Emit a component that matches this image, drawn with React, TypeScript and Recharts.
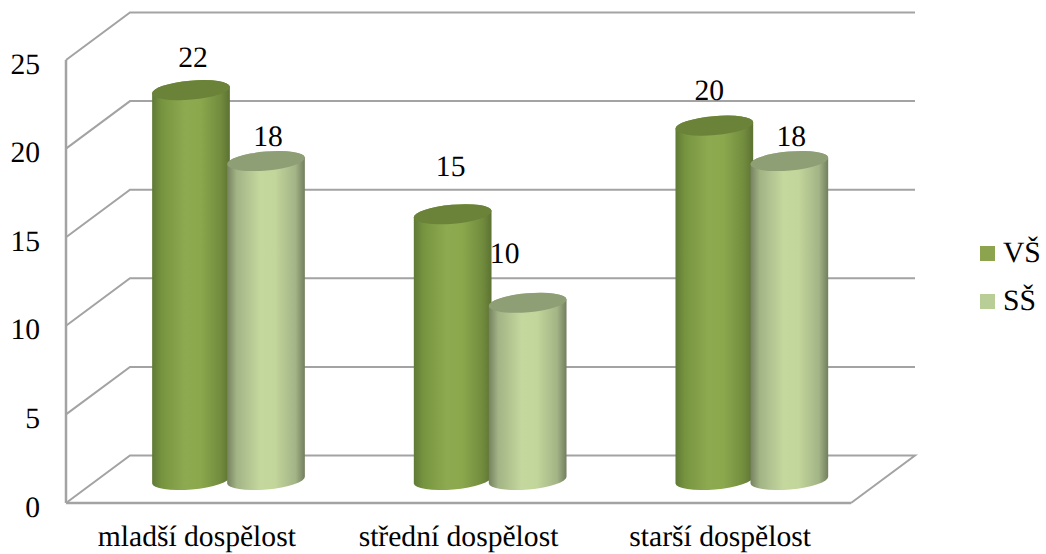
import React from 'react';
import { BarChart, Bar, XAxis, YAxis, CartesianGrid, Legend, LabelList } from 'recharts';

const categories = ['mladší dospělost', 'střední dospělost', 'starší dospělost'];
const vsValues = [22, 15, 20];
const ssValues = [18, 10, 18];
const yTicks = [0, 5, 10, 15, 20, 25];

const rows = categories.map((name, i) => ({ name, vs: vsValues[i], ss: ssValues[i] }));

const SERIF = 'Liberation Serif, serif';
const FONT_SIZE = 29.6;
const WALL = '#a3a3a3';

// Perspective of the box: how far the back wall sits from the front plane.
const DEPTH_X = 64;
const DEPTH_Y = 47.5;
// Cylinders stand in the middle of the floor.
const BAR_SHIFT_X = 32;
const BAR_SHIFT_Y = -23;
const CAP_RY = 9.5;
const CAP_TILT = 5;

// Hand-placed value labels: offset from the cylinder's top centre.
const vsLabelNudge = [
  { dx: 2, dy: -32 },
  { dx: -2, dy: -47 },
  { dx: -5, dy: -35 },
];
const ssLabelNudge = [
  { dx: 2, dy: -24 },
  { dx: -23, dy: -49 },
  { dx: 2, dy: -24 },
];

const wallLine = (props: any) => {
  const { x1, x2, y1 } = props;
  const isFloor = y1 > 500;
  const backY = y1 - DEPTH_Y;
  const points = isFloor
    ? `${x1},${y1} ${x1 + DEPTH_X},${backY} ${x2 + DEPTH_X},${backY} ${x2},${y1}`
    : `${x1},${y1} ${x1 + DEPTH_X},${backY} ${x2 + DEPTH_X},${backY}`;
  return <polyline key={`wall-${y1}`} points={points} fill="none" stroke={WALL} strokeWidth={2} />;
};

const cylinder = (gradient: string, cap: string) => (props: any) => {
  const { x, y, width, height } = props;
  const rx = width / 2;
  const cx = x + rx + BAR_SHIFT_X;
  const topY = y + BAR_SHIFT_Y;
  const baseY = y + height + BAR_SHIFT_Y;
  const a = (CAP_TILT * Math.PI) / 180;
  const ex = rx * Math.cos(a);
  const ey = rx * Math.sin(a);
  const body = [
    `M ${cx - ex} ${topY + ey}`,
    `L ${cx - ex} ${baseY + ey}`,
    `A ${rx} ${CAP_RY} ${-CAP_TILT} 0 0 ${cx + ex} ${baseY - ey}`,
    `L ${cx + ex} ${topY - ey}`,
    `A ${rx} ${CAP_RY} ${-CAP_TILT} 0 0 ${cx - ex} ${topY + ey}`,
    'Z',
  ].join(' ');
  return (
    <g>
      <path d={body} fill={`url(#${gradient})`} />
      <ellipse
        cx={cx}
        cy={topY}
        rx={rx}
        ry={CAP_RY}
        fill={cap}
        transform={`rotate(${-CAP_TILT} ${cx} ${topY})`}
      />
    </g>
  );
};

const valueLabel = (nudge: { dx: number; dy: number }[]) => (props: any) => {
  const { x, y, width, value, index } = props;
  return (
    <text
      x={x + width / 2 + BAR_SHIFT_X + nudge[index].dx}
      y={y + BAR_SHIFT_Y + nudge[index].dy}
      textAnchor="middle"
      dominantBaseline="central"
      fontFamily={SERIF}
      fontSize={FONT_SIZE}
      fill="#000"
      style={{ textRendering: 'geometricPrecision' }}
    >
      {value}
    </text>
  );
};

const legendContent = ({ payload }: any) => (
  <div style={{ fontFamily: SERIF, fontSize: FONT_SIZE, color: '#000', textRendering: 'geometricPrecision' }}>
    {(payload ?? []).map((entry: any) => (
      <div key={entry.value} style={{ display: 'flex', alignItems: 'center', height: 48 }}>
        <span style={{ width: 15, height: 15, background: entry.color, marginRight: 8, flex: 'none' }} />
        <span>{entry.value}</span>
      </div>
    ))}
  </div>
);

export default function App() {
  const tickStyle = { fontFamily: SERIF, fontSize: FONT_SIZE, fill: '#000', style: { textRendering: 'geometricPrecision' } };
  return (
    <div style={{ position: 'absolute', left: 0, top: 0, width: 1046, height: 554 }}>
      <BarChart
        width={1046}
        height={554}
        data={rows}
        margin={{ top: 60, right: 195, bottom: 0, left: 16 }}
        barSize={78}
        barGap={-3}
      >
        <defs>
          <linearGradient id="vsBody" x1="0" y1="0" x2="1" y2="0">
            <stop offset="0" stopColor="#5f7a36" />
            <stop offset="0.12" stopColor="#76933f" />
            <stop offset="0.42" stopColor="#8eaa50" />
            <stop offset="0.62" stopColor="#8ba84d" />
            <stop offset="0.88" stopColor="#728c3e" />
            <stop offset="1" stopColor="#5c7232" />
          </linearGradient>
          <linearGradient id="ssBody" x1="0" y1="0" x2="1" y2="0">
            <stop offset="0" stopColor="#76825f" />
            <stop offset="0.12" stopColor="#a2b385" />
            <stop offset="0.42" stopColor="#c4d79d" />
            <stop offset="0.62" stopColor="#c2d59a" />
            <stop offset="0.88" stopColor="#a3b486" />
            <stop offset="1" stopColor="#727e5e" />
          </linearGradient>
        </defs>
        <CartesianGrid vertical={false} horizontal={wallLine} />
        <XAxis
          dataKey="name"
          height={51}
          axisLine={{ stroke: WALL, strokeWidth: 2.5 }}
          tickLine={false}
          tick={tickStyle}
          tickMargin={16}
          interval={0}
        />
        <YAxis
          domain={[0, 25]}
          ticks={yTicks}
          width={50}
          axisLine={{ stroke: WALL, strokeWidth: 2.5 }}
          tickLine={false}
          tick={{ ...tickStyle, dy: 3 }}
          tickMargin={20}
        />
        <Legend
          layout="horizontal"
          align="center"
          verticalAlign="middle"
          itemSorter={null}
          content={legendContent}
          wrapperStyle={{ position: 'absolute', left: 980, top: 229, width: 66, margin: 0 }}
        />
        <Bar
          dataKey="vs"
          name="VŠ"
          fill="#8ba44d"
          isAnimationActive={false}
          shape={cylinder('vsBody', '#6b8239')}
        >
          <LabelList dataKey="vs" content={valueLabel(vsLabelNudge)} />
        </Bar>
        <Bar
          dataKey="ss"
          name="SŠ"
          fill="#b9cd96"
          isAnimationActive={false}
          shape={cylinder('ssBody', '#8e9e75')}
        >
          <LabelList dataKey="ss" content={valueLabel(ssLabelNudge)} />
        </Bar>
      </BarChart>
    </div>
  );
}
